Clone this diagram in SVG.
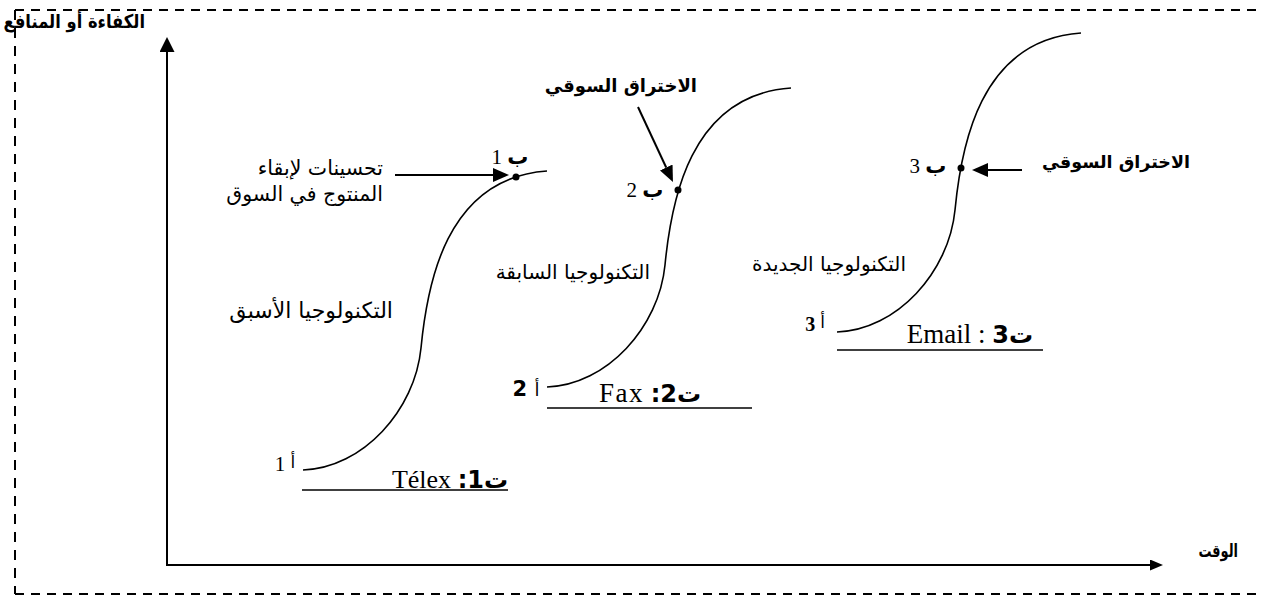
<svg xmlns="http://www.w3.org/2000/svg" width="1262" height="596" viewBox="0 0 1262 596">
<style>
.frame{fill:none;stroke:#000;stroke-width:2}
.axis{fill:none;stroke:#000;stroke-width:2}
.curve{fill:none;stroke:#000;stroke-width:1.6}
.under{stroke:#000;stroke-width:1.4}
.arrow{fill:none;stroke:#000;stroke-width:2}
.dot{fill:#000}
.ar{font-family:"DejaVu Sans",sans-serif;fill:#000}
.arb{font-family:"DejaVu Sans",sans-serif;font-weight:bold;fill:#000}
.ser{font-family:"Liberation Serif",serif;fill:#000}
</style>
<defs>
<marker id="ah" markerUnits="userSpaceOnUse" viewBox="0 0 16 14" refX="0" refY="7" markerWidth="16" markerHeight="14" orient="auto">
<path d="M0,0 L16,7 L0,14 z" fill="#000"/>
</marker>
<marker id="axh" markerUnits="userSpaceOnUse" viewBox="0 0 15 15" refX="0" refY="7.5" markerWidth="15" markerHeight="15" orient="auto-start-reverse">
<path d="M0,0 L15,7.5 L0,15 z" fill="#000"/>
</marker>
<marker id="axh2" markerUnits="userSpaceOnUse" viewBox="0 0 13 11" refX="0" refY="5.5" markerWidth="13" markerHeight="11" orient="auto">
<path d="M0,0 L13,5.5 L0,11 z" fill="#000"/>
</marker>
<path id="scurve" d="M0,0 C60,-2 112,-60 118,-122 C124,-184 142,-292 244,-299"/>
</defs>

<g id="frame">
<line class="frame" x1="15" y1="10" x2="1262" y2="10" stroke-dasharray="9 7"/>
<line class="frame" x1="15" y1="594" x2="1262" y2="594" stroke-dasharray="9 7"/>
<line class="frame" x1="15" y1="10" x2="15" y2="594" stroke-dasharray="10 8"/>
</g>

<g id="axes">
<path class="axis" d="M167,52 L167,565 L1150,565" marker-start="url(#axh)" marker-end="url(#axh2)"/>
<text class="arb" transform="translate(145,28) scale(0.86,1)" x="0" y="0" font-size="19" text-anchor="end">الكفاءة أو المنافع</text>
<text class="arb" transform="translate(1238,557) scale(0.72,1)" x="0" y="0" font-size="18" text-anchor="end">الوقت</text>
</g>

<g id="tech1">
<use href="#scurve" class="curve" transform="translate(303,470)"/>
<circle class="dot" cx="516" cy="177" r="3.5"/>
<line class="under" x1="302" y1="490" x2="508" y2="490"/>
<text x="450" y="488" font-size="24" text-anchor="middle" direction="rtl"><tspan class="arb">ت1:</tspan><tspan class="ser" font-size="26"> Télex</tspan></text>
<text x="285" y="471" text-anchor="middle" direction="rtl"><tspan class="ar" font-size="17" dy="-3">أ</tspan><tspan class="ser" font-size="21" dy="3"> 1</tspan></text>
<text x="510" y="164" text-anchor="middle" direction="rtl"><tspan class="arb" font-size="21">ب</tspan><tspan class="ser" font-size="21"> 1</tspan></text>
<text class="ar" x="393" y="318" font-size="22" text-anchor="end">التكنولوجيا الأسبق</text>
<text class="ar" x="383" y="175" font-size="20.5" text-anchor="end">تحسينات لإبقاء</text>
<text class="ar" x="383" y="201" font-size="20.5" text-anchor="end">المنتوج في السوق</text>
</g>

<g id="tech2">
<use href="#scurve" class="curve" transform="translate(547,387)"/>
<circle class="dot" cx="678" cy="190" r="3.5"/>
<line class="under" x1="547" y1="408" x2="752" y2="408"/>
<text x="650" y="402" font-size="24" text-anchor="middle" direction="rtl"><tspan class="arb">ت2:</tspan><tspan class="ser" font-size="27" letter-spacing="1.5"> Fax</tspan></text>
<text x="526" y="396" text-anchor="middle" direction="rtl"><tspan class="ar" font-size="18">أ</tspan><tspan class="arb" font-size="21"> 2</tspan></text>
<text x="645" y="197" text-anchor="middle" direction="rtl"><tspan class="arb" font-size="21">ب</tspan><tspan class="ser" font-size="21"> 2</tspan></text>
<text class="ar" x="650" y="279" font-size="20" text-anchor="end">التكنولوجيا السابقة</text>
<text class="arb" x="697" y="92" font-size="18" text-anchor="end">الاختراق السوقي</text>
</g>

<g id="tech3">
<use href="#scurve" class="curve" transform="translate(837,332)"/>
<circle class="dot" cx="961" cy="168" r="3.5"/>
<line class="under" x1="837" y1="350" x2="1043" y2="350"/>
<text x="970" y="343" font-size="24" text-anchor="middle" direction="rtl"><tspan class="arb">ت3</tspan><tspan class="ser" font-size="27"> : Email</tspan></text>
<text x="815" y="331" text-anchor="middle" direction="rtl"><tspan class="ar" font-size="17" dy="-3">أ</tspan><tspan class="ser" font-size="20" font-weight="bold" dy="3"> 3</tspan></text>
<text x="928" y="173" text-anchor="middle" direction="rtl"><tspan class="arb" font-size="21">ب</tspan><tspan class="ser" font-size="21"> 3</tspan></text>
<text class="ar" x="906" y="271" font-size="20" text-anchor="end">التكنولوجيا الجديدة</text>
<text class="arb" x="1190" y="168" font-size="17.5" text-anchor="end">الاختراق السوقي</text>
</g>

<g id="connectors">
<line class="arrow" x1="395" y1="175" x2="493" y2="175" marker-end="url(#ah)"/>
<line class="arrow" x1="638" y1="107" x2="666.2" y2="167.5" marker-end="url(#ah)"/>
<line class="arrow" x1="1022" y1="170" x2="988" y2="170" marker-end="url(#ah)"/>
</g>
</svg>
